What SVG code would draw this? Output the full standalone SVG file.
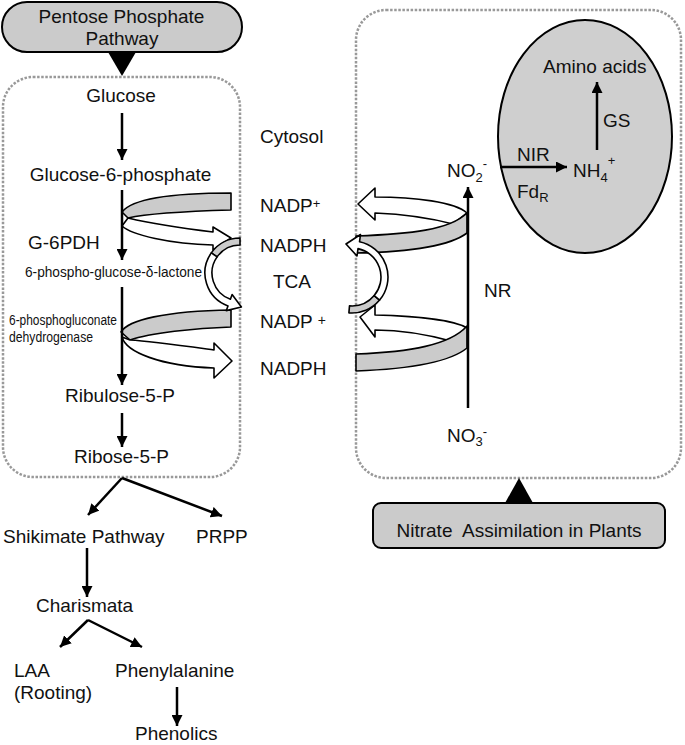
<svg xmlns="http://www.w3.org/2000/svg" width="685" height="745" viewBox="0 0 685 745">
<style>
text{font-family:"Liberation Sans",Arial,sans-serif;font-size:19px;fill:#111}
.sm{font-size:13px}
.dot{fill:none;stroke:#999;stroke-width:2.5;stroke-dasharray:2.5 1.6}
.ln{stroke:#000;stroke-width:2.5;fill:none;marker-end:url(#ah)}
.gr{fill:#cbcbcb;stroke:#000;stroke-width:1.6;stroke-linejoin:round}
.wh{fill:#fff;stroke:#000;stroke-width:1.6;stroke-linejoin:round}
.mid{text-anchor:middle}
</style>
<defs>
<marker id="ah" markerUnits="userSpaceOnUse" markerWidth="11" markerHeight="11" refX="11" refY="5.5" orient="auto"><path d="M0,0 L11,5.5 L0,11 Z" fill="#000"/></marker>
</defs>

<g id="pentose-phosphate-pathway">
<rect x="2" y="2" width="240" height="50" rx="25" fill="#cbcbcb" stroke="#000" stroke-width="2"/>
<text x="121.5" y="23" class="mid">Pentose Phosphate</text>
<text x="122" y="45" class="mid">Pathway</text>
<path d="M108,52 L136,52 L122,76 Z" fill="#000"/>
</g>

<g id="cytosol-box"><rect class="dot" x="3" y="77" width="237" height="400" rx="30"/></g>
<g id="plant-box"><rect class="dot" x="356" y="10" width="325" height="468" rx="30"/></g>

<g id="chloroplast"><ellipse cx="585" cy="136.5" rx="87" ry="116.5" fill="#cfcfcf" stroke="#000" stroke-width="2"/></g>

<g id="nitrate-assimilation">
<path d="M505,503 L533,503 L519,478 Z" fill="#000"/>
<rect x="373" y="503" width="292" height="45" rx="8" fill="#cbcbcb" stroke="#000" stroke-width="2"/>
<text x="519" y="537" class="mid" xml:space="preserve">Nitrate  Assimilation in Plants</text>
</g>

<g id="cofactor-arrows">
<path class="gr" d="M231,193 L231,210 C195,211 150,213 128,218 L122,212 C132,199 170,193 231,193 Z"/>
<path class="wh" d="M231,238 L213,227 L213,232 C180,228 145,222 128,218 L122,226 C132,235 170,244 213,245 L213,250 Z"/>
<path class="gr" d="M231,310 L231,327 C195,328 150,333 130,340 L121,332 C128,320 165,311 231,310 Z"/>
<path class="wh" d="M232,361 L214,343 L214,350 C185,346 150,341 130,340 L122,337 C126,352 160,366 214,368 L214,378 Z"/>
<path class="wh" d="M358,204 L375,188 L375,197 C415,197 455,202 467,213 L453,224 C430,218 400,214 375,213 L375,220 Z"/>
<path class="gr" d="M467,213 L467,233 C450,246 410,252 356,253 L356,236 C410,234 450,230 467,213 Z"/>
<path class="wh" d="M360,317 L375,305 L375,315 C415,316 455,320 467,328 L455,342 C430,335 400,330 375,330 L375,337 Z"/>
<path class="gr" d="M467,326 L467,348 C450,362 410,369 356,371 L356,354 C410,352 450,345 467,326 Z"/>
<path class="gr" d="M240,238 A35,35 0 0 0 211.3,252.9 L217.1,256.9 A28,28 0 0 1 240,245 Z"/>
<path class="wh" d="M211.3,252.9 A35,35 0 0 0 228,305.9 L226.3,310.6 L241.4,307 L232.1,294.6 L230.4,299.3 A28,28 0 0 1 217.1,256.9 Z"/>
<path class="gr" d="M348.9,312.9 A36,36 0 0 0 379.6,300.1 L374.2,295.6 A29,29 0 0 1 349.5,305.9 Z"/>
<path class="wh" d="M379.6,300.1 A36,36 0 0 0 359.5,241.8 L360.5,234.5 L346,244 L357,256 L358,248.6 A29,29 0 0 1 374.2,295.6 Z"/>
</g>

<g id="connectors">
<line class="ln" x1="122" y1="113" x2="122" y2="160"/>
<line class="ln" x1="122" y1="190" x2="122" y2="260"/>
<line class="ln" x1="122" y1="287" x2="122" y2="385"/>
<line class="ln" x1="122" y1="413" x2="122" y2="447"/>
<line class="ln" x1="122" y1="478" x2="88" y2="515"/>
<line class="ln" x1="122" y1="478" x2="222" y2="516"/>
<line class="ln" x1="87" y1="548" x2="87" y2="597"/>
<line class="ln" x1="88" y1="620" x2="60" y2="647"/>
<line class="ln" x1="88" y1="620" x2="142" y2="647"/>
<line class="ln" x1="177" y1="687" x2="177" y2="726"/>
<line class="ln" x1="468" y1="408" x2="468" y2="187"/>
<line class="ln" x1="500" y1="167" x2="567" y2="167"/>
<line class="ln" x1="597" y1="150" x2="597" y2="82"/>
</g>

<g id="n-glucose"><text x="121" y="102" class="mid">Glucose</text></g>
<g id="n-cytosol"><text x="260" y="143">Cytosol</text></g>
<g id="n-g6p"><text x="120.5" y="181" class="mid">Glucose-6-phosphate</text></g>
<g id="n-g6pdh"><text x="28" y="249">G-6PDH</text></g>
<g id="n-lactone"><text x="25" y="277" style="font-size:15px" textLength="177" lengthAdjust="spacingAndGlyphs">6-phospho-glucose-δ-lactone</text></g>
<g id="n-6pgdh"><text x="9" y="325" style="font-size:14px" textLength="108" lengthAdjust="spacingAndGlyphs">6-phosphogluconate</text>
<text x="9" y="342" style="font-size:14px" textLength="84" lengthAdjust="spacingAndGlyphs">dehydrogenase</text></g>
<g id="n-ribulose"><text x="120" y="402" class="mid">Ribulose-5-P</text></g>
<g id="n-ribose"><text x="121.5" y="463" class="mid">Ribose-5-P</text></g>
<g id="n-nadp1"><text x="260" y="212">NADP<tspan class="sm" dy="-4">+</tspan></text></g>
<g id="n-nadph1"><text x="260" y="252">NADPH</text></g>
<g id="n-tca"><text x="273" y="288">TCA</text></g>
<g id="n-nadp2"><text x="260" y="328" xml:space="preserve">NADP <tspan style="font-size:14px" dy="-3">+</tspan></text></g>
<g id="n-nadph2"><text x="260" y="375">NADPH</text></g>
<g id="n-nr"><text x="484" y="297">NR</text></g>
<g id="n-no2"><text x="447" y="177">NO<tspan class="sm" dy="5">2</tspan><tspan class="sm" dy="-14">-</tspan></text></g>
<g id="n-nir"><text x="517" y="161">NIR</text></g>
<g id="n-nh4"><text x="573" y="177">NH<tspan class="sm" dy="5">4</tspan><tspan class="sm" dy="-17">+</tspan></text></g>
<g id="n-fdr"><text x="517" y="198">Fd<tspan class="sm" dy="4">R</tspan></text></g>
<g id="n-amino"><text x="543" y="73">Amino acids</text></g>
<g id="n-gs"><text x="603" y="127">GS</text></g>
<g id="n-no3"><text x="447" y="442">NO<tspan class="sm" dy="4">3</tspan><tspan class="sm" dy="-10">-</tspan></text></g>
<g id="n-shikimate"><text x="3" y="543">Shikimate Pathway</text></g>
<g id="n-prpp"><text x="196" y="543">PRPP</text></g>
<g id="n-charismata"><text x="36" y="612">Charismata</text></g>
<g id="n-laa"><text x="14" y="677">LAA</text><text x="14" y="699">(Rooting)</text></g>
<g id="n-phenylalanine"><text x="115" y="677">Phenylalanine</text></g>
<g id="n-phenolics"><text x="135" y="740">Phenolics</text></g>
</svg>
